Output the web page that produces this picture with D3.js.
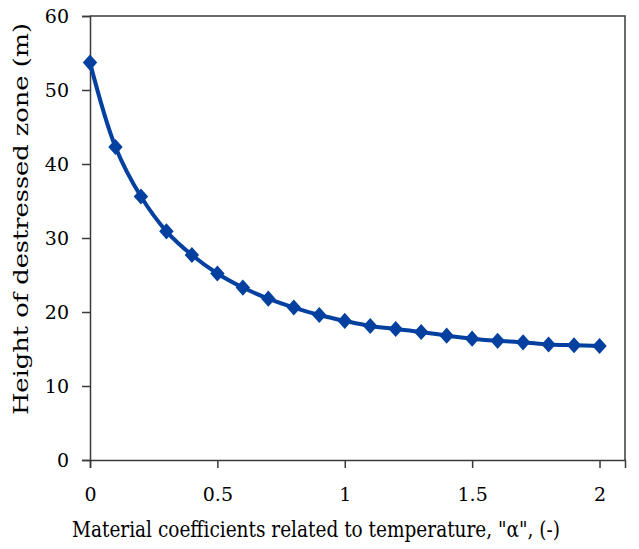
<!DOCTYPE html>
<html>
<head>
<meta charset="utf-8">
<script src="https://cdn.jsdelivr.net/npm/d3@7"></script>
<style>
  body { margin: 0; background: #fff; }
  svg text { font-family: "DejaVu Serif", serif; }
</style>
</head>
<body>
<div id="chart"></div>
<script>
const alphaValues = [0, 0.1, 0.2, 0.3, 0.4, 0.5, 0.6, 0.7, 0.8, 0.9, 1.0,
                     1.1, 1.2, 1.3, 1.4, 1.5, 1.6, 1.7, 1.8, 1.9, 2.0];
const heightValues = [53.7, 42.3, 35.6, 30.9, 27.7, 25.2, 23.3, 21.8, 20.6, 19.6, 18.8,
                      18.1, 17.7, 17.3, 16.8, 16.4, 16.1, 15.9, 15.6, 15.5, 15.4];
const xTicks = [0, 0.5, 1, 1.5, 2];
const yTicks = [0, 10, 20, 30, 40, 50, 60];

const width = 639;
const height = 549;
const margin = { top: 16, right: 14, bottom: 89, left: 90 };

const svg = d3.select("#chart")
    .append("svg")
    .attr("width", width)
    .attr("height", height);

const x = d3.scaleLinear().domain([0, 2.1]).range([margin.left, width - margin.right]);
const y = d3.scaleLinear().domain([0, 60]).range([height - margin.bottom, margin.top]);

const axisColor = "#3a3a3a";

// plot frame (top and right)
svg.append("path")
    .attr("d", `M${x(0)},${y(60)}H${x(2.1)}V${y(0)}`)
    .attr("fill", "none")
    .attr("stroke", axisColor)
    .attr("stroke-width", 1.5);

// x axis
const xAxis = svg.append("g")
    .attr("transform", `translate(0,${y(0)})`)
    .call(d3.axisBottom(x).tickValues(xTicks).tickSize(8).tickPadding(20).tickFormat(d3.format("")));
xAxis.attr("font-family", null).attr("font-size", null);
xAxis.select(".domain").attr("stroke", axisColor).attr("stroke-width", 1.5);
xAxis.selectAll(".tick line").attr("stroke", axisColor).attr("stroke-width", 1.5);
xAxis.selectAll("text").style("font-size", "19px").attr("fill", "#000");

// y axis
const yAxis = svg.append("g")
    .attr("transform", `translate(${x(0)},0)`)
    .call(d3.axisLeft(y).tickValues(yTicks).tickSize(8).tickPadding(13));
yAxis.attr("font-family", null).attr("font-size", null);
yAxis.select(".domain").attr("stroke", axisColor).attr("stroke-width", 1.5);
yAxis.selectAll(".tick line").attr("stroke", axisColor).attr("stroke-width", 1.5);
yAxis.selectAll("text").style("font-size", "19px").attr("fill", "#000");

// axis titles
svg.append("text")
    .attr("x", 72)
    .attr("y", 537)
    .attr("textLength", 488)
    .attr("lengthAdjust", "spacingAndGlyphs")
    .style("font-size", "21.5px")
    .text('Material coefficients related to temperature, "\u03b1", (-)');

svg.append("text")
    .attr("transform", "translate(28,415) rotate(-90)")
    .attr("textLength", 392)
    .attr("lengthAdjust", "spacingAndGlyphs")
    .style("font-size", "20px")
    .text("Height of destressed zone (m)");

// data
const data = alphaValues.map((a, i) => ({ a: a, h: heightValues[i] }));
const lineColor = "#0340a0";

const line = d3.line()
    .x(d => x(d.a))
    .y(d => y(d.h))
    .curve(d3.curveCatmullRom);

svg.append("path")
    .datum(data)
    .attr("d", line)
    .attr("fill", "none")
    .attr("stroke", lineColor)
    .attr("stroke-width", 4);

const diamond = d3.symbol().type(d3.symbolDiamond).size(75);
svg.selectAll(".marker")
    .data(data)
    .enter()
    .append("path")
    .attr("class", "marker")
    .attr("transform", d => `translate(${x(d.a)},${y(d.h)}) scale(1.55,1)`)
    .attr("d", diamond)
    .attr("fill", lineColor);
</script>
</body>
</html>
